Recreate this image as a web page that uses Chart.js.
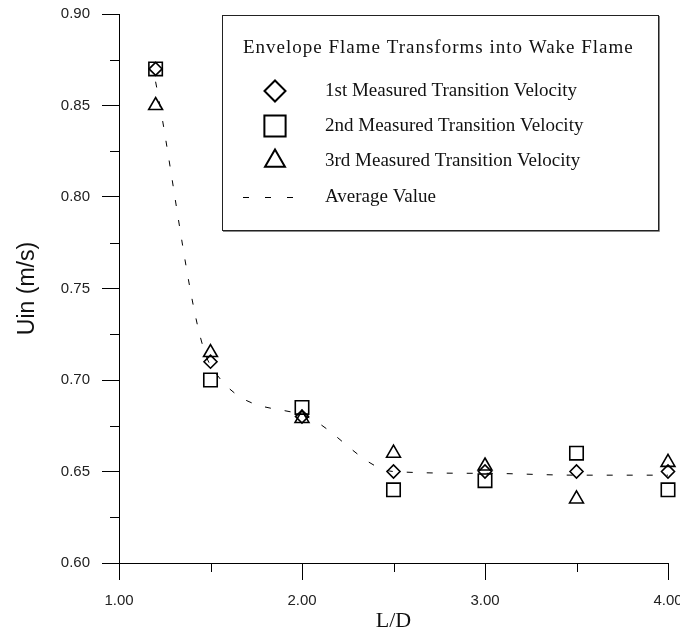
<!DOCTYPE html>
<html>
<head>
<meta charset="utf-8">
<script src="https://cdn.jsdelivr.net/npm/chart.js@4.4.0/dist/chart.umd.min.js"></script>
<style>
  html, body { margin: 0; padding: 0; background: #fff; }
  #wrap { width: 680px; height: 629px; }
</style>
</head>
<body>
<div id="wrap"><canvas id="grafico" width="680" height="629"></canvas></div>
<script>
// dados
const razaoLD = [1.2, 1.5, 2.0, 2.5, 3.0, 3.5, 4.0];
const medicao1 = [0.87, 0.71, 0.68, 0.65, 0.65, 0.65, 0.65];
const medicao2 = [0.87, 0.70, 0.685, 0.64, 0.645, 0.66, 0.64];
const medicao3 = [0.85, 0.715, 0.679, 0.66, 0.653, 0.635, 0.655];
const media = [0.863, 0.708, 0.681, 0.650, 0.649, 0.648, 0.648];

const ticksX = [1, 2, 3, 4];
const ticksXMenores = [1.5, 2.5, 3.5];
const ticksY = [0.60, 0.65, 0.70, 0.75, 0.80, 0.85, 0.90];
const ticksYMenores = [0.625, 0.675, 0.725, 0.775, 0.825, 0.875];

const tituloLegenda = 'Envelope Flame Transforms into Wake Flame';
const nomesSeries = [
    '1st Measured Transition Velocity',
    '2nd Measured Transition Velocity',
    '3rd Measured Transition Velocity',
    'Average Value'
];

function pontos(valores) {
    return razaoLD.map((x, i) => ({ x: x, y: valores[i] }));
}

const fonteEixo = { family: 'Liberation Sans, Arial, sans-serif', size: 15 };

// Plugin: ticks menores
const ticksMenores = {
    id: 'ticksMenores',
    afterDraw(chart) {
        const ctx = chart.ctx;
        const sx = chart.scales.x, sy = chart.scales.y;
        ctx.save();
        ctx.strokeStyle = '#000';
        ctx.lineWidth = 1;
        ctx.beginPath();
        ticksXMenores.forEach(v => {
            const px = Math.round(sx.getPixelForValue(v)) + 0.5;
            ctx.moveTo(px, sy.bottom);
            ctx.lineTo(px, sy.bottom + 9);
        });
        ticksYMenores.forEach(v => {
            const py = Math.round(sy.getPixelForValue(v)) + 0.5;
            ctx.moveTo(sx.left - 9, py);
            ctx.lineTo(sx.left, py);
        });
        ctx.stroke();
        ctx.restore();
    }
};

// Plugin: caixa de legenda
const caixaLegenda = {
    id: 'caixaLegenda',
    afterDraw(chart) {
        const ctx = chart.ctx;
        const ds = chart.data.datasets;
        ctx.save();
        ctx.fillStyle = '#fff';
        ctx.fillRect(222, 15, 436, 215);
        ctx.strokeStyle = '#888';
        ctx.lineWidth = 1;
        ctx.beginPath();
        ctx.moveTo(659.5, 16);
        ctx.lineTo(659.5, 231.5);
        ctx.lineTo(223, 231.5);
        ctx.stroke();
        ctx.strokeStyle = '#222';
        ctx.strokeRect(222.5, 15.5, 436, 215);

        ctx.fillStyle = '#111';
        ctx.textBaseline = 'middle';
        ctx.font = '19px "Liberation Serif", "Times New Roman", serif';
        ctx.letterSpacing = '1px';
        ctx.fillText(tituloLegenda, 243, 48);
        ctx.letterSpacing = '0px';

        const ys = [91, 126, 161, 197];
        const raios = [10.5, 15, 11.5];
        nomesSeries.forEach((nome, i) => {
            const y = ys[i];
            if (i < 3) {
                ctx.strokeStyle = '#000';
                ctx.fillStyle = '#fff';
                ctx.lineWidth = 2;
                Chart.helpers.drawPoint(ctx, {
                    pointStyle: ds[i].pointStyle,
                    radius: raios[i],
                    rotation: 0,
                    borderWidth: 2
                }, 275, y);
            } else {
                ctx.strokeStyle = '#000';
                ctx.lineWidth = 1;
                ctx.setLineDash([6, 16]);
                ctx.beginPath();
                ctx.moveTo(243, y + 0.5);
                ctx.lineTo(296, y + 0.5);
                ctx.stroke();
                ctx.setLineDash([]);
            }
            ctx.fillStyle = '#111';
            ctx.fillText(nome, 325, y);
        });
        ctx.restore();
    }
};

function serieMarcador(nome, valores, estilo, raio) {
    return {
        label: nome,
        data: pontos(valores),
        showLine: false,
        clip: false,
        pointStyle: estilo,
        pointRadius: raio,
        pointHoverRadius: raio,
        pointBorderWidth: 1.6,
        pointBorderColor: '#000',
        pointBackgroundColor: 'rgba(0,0,0,0)'
    };
}

const ctx = document.getElementById('grafico').getContext('2d');
const grafico = new Chart(ctx, {
    type: 'scatter',
    data: {
        datasets: [
            serieMarcador(nomesSeries[0], medicao1, 'rectRot', 6.5),
            serieMarcador(nomesSeries[1], medicao2, 'rect', 9.5),
            serieMarcador(nomesSeries[2], medicao3, 'triangle', 8),
            {
                label: nomesSeries[3],
                data: pontos(media),
                showLine: true,
                clip: false,
                cubicInterpolationMode: 'monotone',
                borderColor: '#000',
                borderWidth: 1,
                borderDash: [6, 14],
                pointRadius: 0,
                fill: false
            }
        ]
    },
    options: {
        responsive: false,
        animation: false,
        devicePixelRatio: 1,
        layout: { padding: { left: 0, top: 14, right: 12, bottom: 0 } },
        plugins: {
            legend: { display: false },
            tooltip: { enabled: false }
        },
        scales: {
            x: {
                type: 'linear',
                min: 1,
                max: 4,
                afterBuildTicks: scale => { scale.ticks = ticksX.map(v => ({ value: v })); },
                afterFit: scale => {
                    scale.height = 66;
                    scale.paddingLeft = 0;
                    scale.paddingRight = 0;
                },
                ticks: {
                    callback: v => Number(v).toFixed(2),
                    font: fonteEixo,
                    color: '#222',
                    padding: 12,
                    maxRotation: 0
                },
                grid: { drawOnChartArea: false, tickLength: 17, color: '#000', tickColor: '#000' },
                border: { color: '#000', width: 1 },
                title: {
                    display: true,
                    text: 'L/D',
                    font: { family: 'Liberation Serif, Times New Roman, serif', size: 22 },
                    color: '#111',
                    padding: { top: 0, bottom: -5 }
                }
            },
            y: {
                type: 'linear',
                min: 0.60,
                max: 0.90,
                afterBuildTicks: scale => { scale.ticks = ticksY.map(v => ({ value: v })); },
                afterFit: scale => {
                    scale.width = 119;
                    scale.paddingTop = 0;
                    scale.paddingBottom = 0;
                },
                ticks: {
                    callback: v => Number(v).toFixed(2),
                    font: fonteEixo,
                    color: '#222',
                    padding: 12
                },
                grid: { drawOnChartArea: false, tickLength: 17, color: '#000', tickColor: '#000' },
                border: { color: '#000', width: 1 },
                title: {
                    display: true,
                    text: 'Uin (m/s)',
                    font: { family: 'Liberation Sans, Arial, sans-serif', size: 23 },
                    color: '#111',
                    padding: { top: 14, bottom: 0 }
                }
            }
        }
    },
    plugins: [ticksMenores, caixaLegenda]
});
</script>
</body>
</html>
